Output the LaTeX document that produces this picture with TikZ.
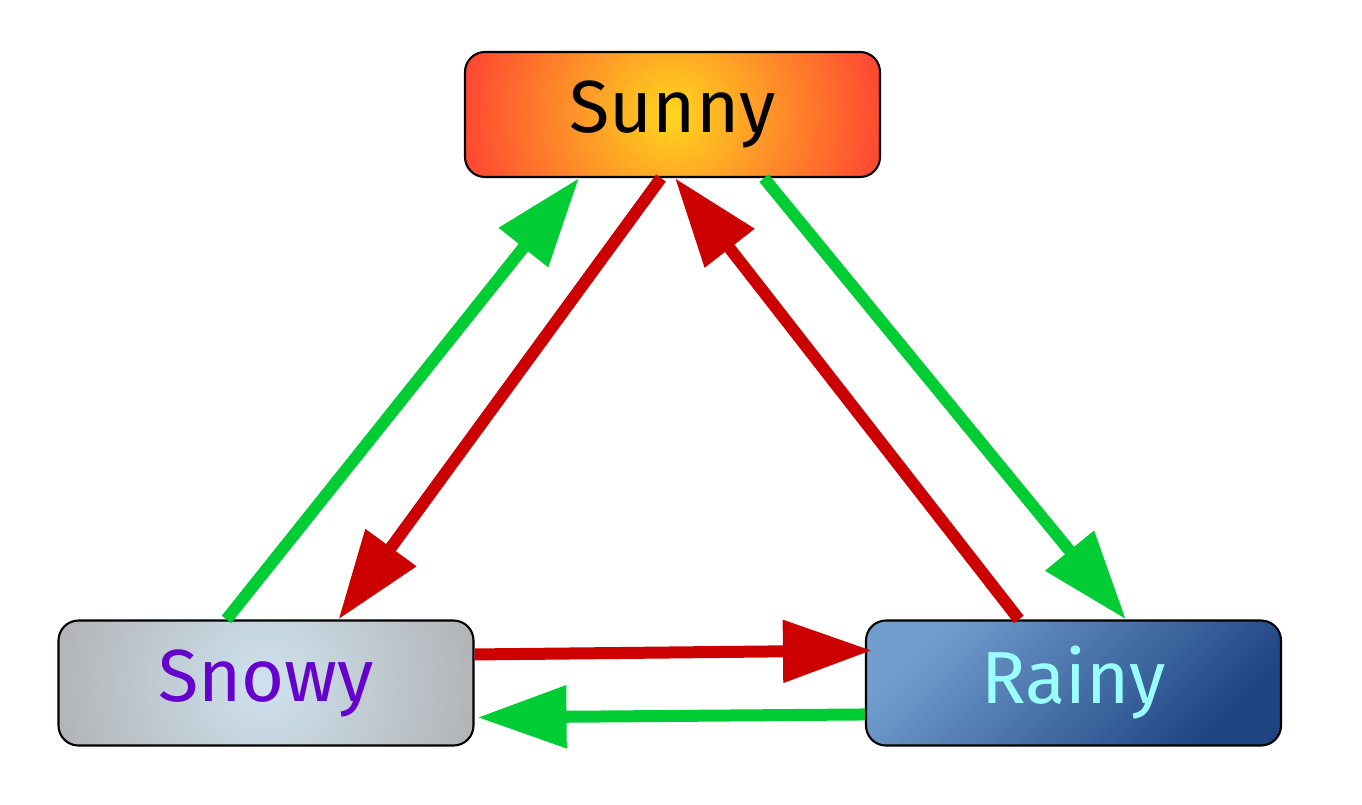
\documentclass[tikz,border=0pt]{standalone}
\usepackage{fontspec}
\setmainfont{Fira Sans}
\usepackage{tikz}
\usetikzlibrary{shapes,arrows.meta,positioning,calc}

\definecolor{sunyellow}{RGB}{255,214,30}
\definecolor{sunred}{RGB}{255,58,52}
\definecolor{snowblue}{RGB}{206,226,238}
\definecolor{snowgray}{RGB}{176,176,178}
\definecolor{rainlight}{RGB}{114,158,206}
\definecolor{raindark}{RGB}{30,68,130}
\definecolor{goodgreen}{RGB}{0,204,51}
\definecolor{badred}{RGB}{204,0,0}
\definecolor{snowtext}{RGB}{102,0,204}
\definecolor{raintext}{RGB}{153,255,255}

\begin{document}
\begin{tikzpicture}[node distance=4cm,
    weather/.style={draw, line width=0.6pt, rounded corners=0.2cm, minimum width=4.15cm, minimum height=1.25cm, font=\fontsize{21}{25}\selectfont},
    greenarrow/.style={draw=goodgreen, line width=0.12cm, -{Triangle[length=0.89cm, width=0.6cm]}},
    redarrow/.style={draw=badred, line width=0.12cm, -{Triangle[length=0.89cm, width=0.6cm]}}]
    \useasboundingbox (0,0) rectangle (13.62,8.04);

    \node (sunny) [weather, fill=sunred, path picture={\shade[inner color=sunyellow, outer color=sunred] (path picture bounding box.center) circle (2.3cm);}] at (6.725,6.895) {Sunny};
    \node (snowy) [weather, fill=snowgray, text=snowtext, below of=sunny, xshift=-4.065cm, yshift=-1.685cm, path picture={\shade[inner color=snowblue, outer color=snowgray] (path picture bounding box.center) circle (2.3cm);}] {Snowy};
    \node (rainy) [weather, top color=rainlight, bottom color=raindark, shading angle=45, text=raintext, right of=snowy, xshift=4.075cm] {Rainy};

    \draw [greenarrow] ($(snowy.north west)+(1.69,0)$) -- ($(sunny.south west)+(1.15,0)$);
    \draw [redarrow] ($(sunny.south west)+(1.97,0)$) -- ($(snowy.north west)+(2.81,0)$);
    \draw [redarrow] ($(rainy.north west)+(1.54,0)$) -- ($(sunny.south west)+(2.11,0)$);
    \draw [greenarrow] ($(sunny.south west)+(3.00,0)$) -- ($(rainy.north west)+(2.61,0)$);
    \draw [redarrow] ($(snowy.north east)+(0,-0.35)$) -- ($(rainy.north west)+(0.07,-0.31)$);
    \draw [greenarrow] ($(rainy.north west)+(0,-0.95)$) -- ($(snowy.north east)+(0.03,-0.98)$);
\end{tikzpicture}
\end{document}
